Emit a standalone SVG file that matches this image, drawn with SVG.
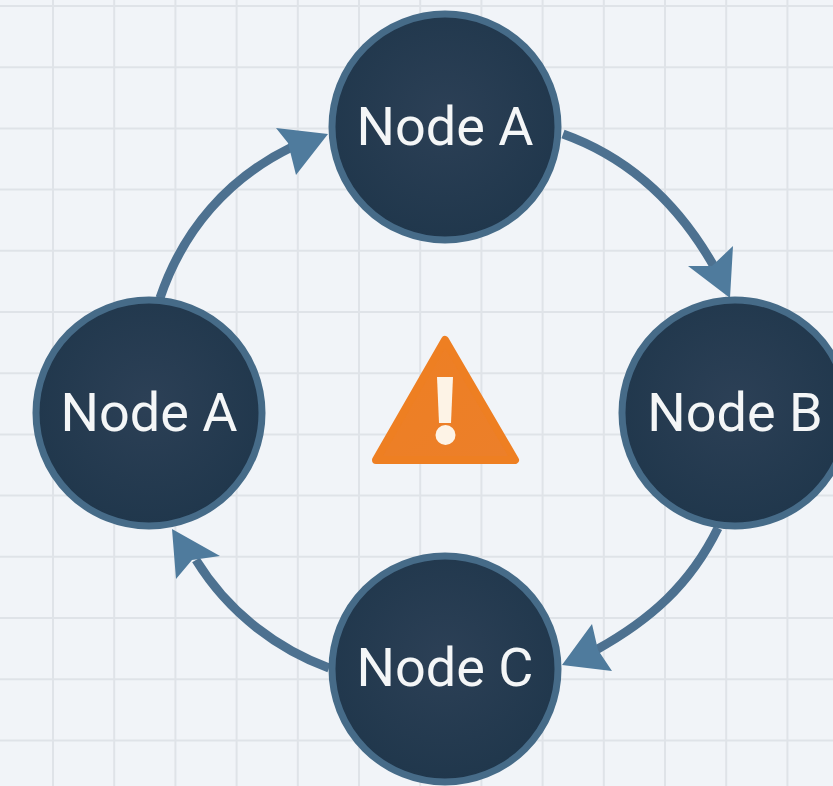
<svg xmlns="http://www.w3.org/2000/svg" width="833" height="786" viewBox="0 0 833 786">
<defs>
<radialGradient id="nodeFill" cx="50%" cy="45%" r="55%"><stop offset="0" stop-color="#2c4056"/><stop offset="1" stop-color="#20374c"/></radialGradient>
<linearGradient id="warn" x1="0" y1="0" x2="1" y2="1"><stop offset="0" stop-color="#ee7f22"/><stop offset="1" stop-color="#ec7f2a"/></linearGradient>
</defs>
<style>
.grid{stroke:#dfe3e8;stroke-width:2;fill:none}
.link{stroke:#4d7190;stroke-width:9;fill:none;stroke-linecap:butt}
.head{fill:#4f7b9d}
.node{fill:url(#nodeFill);stroke:#466b88;stroke-width:7}
.label{font-family:"Roboto","Liberation Sans",sans-serif;font-size:54px;fill:#f4f6f7;text-anchor:middle}
</style>
<rect width="833" height="786" fill="#f1f4f8"/>
<g id="grid">
<path class="grid" d="M53 0V786M114.2 0V786M175.4 0V786M236.6 0V786M297.8 0V786M359 0V786M420.2 0V786M481.4 0V786M542.6 0V786M603.8 0V786M665 0V786M726.2 0V786M787.4 0V786"/>
<path class="grid" d="M0 6H833M0 67.2H833M0 128.4H833M0 189.6H833M0 250.8H833M0 312H833M0 373.2H833M0 434.4H833M0 495.6H833M0 556.8H833M0 618H833M0 679.2H833M0 740.4H833"/>
</g>
<g id="connectors">
<path class="link" d="M160 298C183 230 228 178 292 147"/>
<polygon class="head" points="328,134 276,128 288,143 296,175"/>
<path class="link" d="M563 134C630 158 680 205 716 270"/>
<polygon class="head" points="730,298 733,246 712,266 688,266"/>
<path class="link" d="M718 528C690 585 650 620 596 650"/>
<polygon class="head" points="562,665 592,624 598,650 612,671"/>
<path class="link" d="M329 668C280 650 230 615 196 560"/>
<polygon class="head" points="172,529 176,579 192,560 220,556"/>
</g>
<g id="node-a-top"><circle class="node" cx="445" cy="127" r="113"/><text class="label" x="445" y="145">Node A</text></g>
<g id="node-a-left"><circle class="node" cx="149" cy="413" r="113"/><text class="label" x="149" y="431">Node A</text></g>
<g id="node-b"><circle class="node" cx="735" cy="413" r="113"/><text class="label" x="735" y="431">Node B</text></g>
<g id="node-c"><circle class="node" cx="445" cy="669" r="113"/><text class="label" x="445" y="686">Node C</text></g>
<g id="warning">
<path d="M445 340L515 460H376Z" fill="url(#warn)" stroke="#ee7f22" stroke-width="8" stroke-linejoin="round"/>
<path d="M437 377H453L451 423H439Z" fill="#fdf3e6"/>
<circle cx="445.500" cy="435" r="10" fill="#fdf3e6"/>
</g>
</svg>
